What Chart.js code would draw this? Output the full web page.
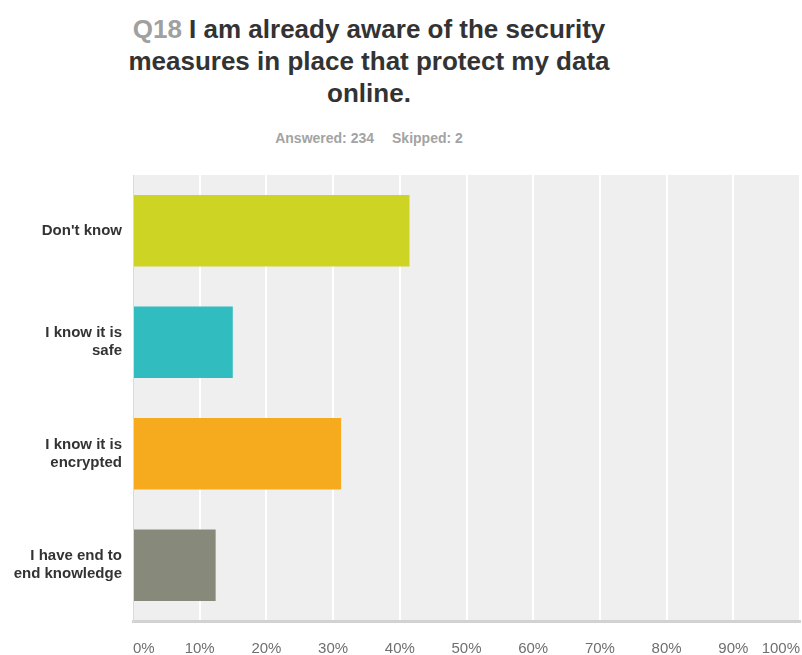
<!DOCTYPE html>
<html lang="en">

<head>
    <meta charset="UTF-8">
    <meta name="viewport" content="width=device-width, initial-scale=1.0">
    <title>Q18</title>
    <style>
        body {
            margin: 0;
            background: #fff;
            font-family: Arial, "Liberation Sans", sans-serif;
        }

        #head {
            position: absolute;
            left: 0;
            top: 13px;
            width: 738px;
            text-align: center;
        }

        #head h1 {
            margin: 0;
            font-size: 26px;
            line-height: 32px;
            font-weight: bold;
            color: #333;
        }

        #head h1 span {
            color: #a0a0a0;
        }

        #head p {
            margin: 21px 0 0 0;
            font-size: 14px;
            line-height: 16px;
            font-weight: bold;
            color: #a3a3a3;
        }

        #head p b + b {
            margin-left: 18px;
        }

        #box {
            position: absolute;
            left: 0;
            top: 165px;
            width: 802px;
            height: 490px;
        }
    </style>
</head>

<body>
    <div id="head">
        <h1><span>Q18</span> I am already aware of the security<br>measures in place that protect my data<br>online.</h1>
        <p><b>Answered: 234</b><b>Skipped: 2</b></p>
    </div>

    <div id="box">
        <canvas id="myChart"></canvas>
    </div>

    <script src="https://cdn.jsdelivr.net/npm/chart.js"></script>

    <script>
        // 응답 항목 (줄바꿈은 배열로)
        const categories = [
            ['Don\'t know'],
            ['I know it is', 'safe'],
            ['I know it is', 'encrypted'],
            ['I have end to', 'end knowledge']
        ];
        // 응답 비율 (%)
        const percents = [41.45, 14.96, 31.20, 12.39];
        const barColors = ['#cdd424', '#31bcbf', '#f6ab1f', '#87897a'];
        const tickValues = [0, 10, 20, 30, 40, 50, 60, 70, 80, 90, 100];

        // 차트 영역 배경색
        const plotBg = {
            id: 'plotBg',
            beforeDraw(chart) {
                const a = chart.chartArea;
                const c = chart.ctx;
                c.save();
                c.fillStyle = '#efefef';
                c.fillRect(a.left, a.top, a.right - a.left, a.bottom - a.top);
                c.restore();
            }
        };

        // 축 라벨 때문에 생기는 여백 제거
        function f_noPad(scale) {
            scale.paddingTop = 0;
            scale.paddingBottom = 0;
            scale.paddingLeft = 0;
            scale.paddingRight = 0;
        }

        const ctx = document.getElementById('myChart');

        let chart = new Chart(ctx, {
            type: 'bar',
            data: {
                labels: categories,
                datasets: [{
                    data: percents,
                    backgroundColor: barColors,
                    borderWidth: 0,
                    barPercentage: 0.64,
                    categoryPercentage: 1
                }]
            },
            options: {
                indexAxis: 'y',
                responsive: true,
                maintainAspectRatio: false,
                animation: false,
                layout: {
                    padding: { top: 10, right: 2, left: 0, bottom: 0 }
                },
                plugins: {
                    legend: { display: false },
                    tooltip: { enabled: false }
                },
                scales: {
                    x: {
                        min: 0,
                        max: 100,
                        afterBuildTicks: function(scale) {
                            scale.ticks = tickValues.map(v => ({ value: v }));
                        },
                        afterFit: function(scale) {
                            scale.height = 34;
                            f_noPad(scale);
                        },
                        grid: {
                            color: '#ffffff',
                            lineWidth: 2,
                            drawTicks: false
                        },
                        border: {
                            color: '#d2d2d2',
                            width: 3
                        },
                        ticks: {
                            align: 'inner',
                            padding: 19,
                            color: '#6f6f6f',
                            font: { size: 15, family: 'Arial, "Liberation Sans", sans-serif' },
                            callback: function(v) {
                                return v + '%';
                            }
                        }
                    },
                    y: {
                        afterFit: function(scale) {
                            scale.width = 133;
                            f_noPad(scale);
                        },
                        grid: { display: false, drawTicks: false },
                        border: {
                            color: '#dadada',
                            width: 1
                        },
                        ticks: {
                            padding: 11,
                            color: '#333333',
                            font: { size: 15, weight: 'bold', lineHeight: 1.2, family: 'Arial, "Liberation Sans", sans-serif' }
                        }
                    }
                }
            },
            plugins: [plotBg]
        });
    </script>
</body>

</html>
